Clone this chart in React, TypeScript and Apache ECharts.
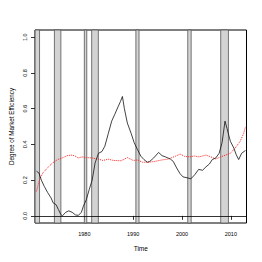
import React, { useEffect, useRef } from "react";
import * as echarts from "echarts";

const effYears = [1970.2,1970.7,1971.2,1971.8,1972.5,1973.2,1973.6,1974.2,1974.7,1975.2,1975.5,1976.2,1976.8,1977.5,1978.2,1978.8,1979.4,1979.8,1980.4,1981.0,1981.6,1982.2,1982.9,1983.6,1984.2,1984.9,1985.6,1986.2,1986.9,1987.4,1987.8,1988.2,1988.8,1989.6,1990.2,1990.9,1991.6,1992.2,1992.9,1993.4,1994.2,1995.2,1995.9,1996.6,1997.6,1998.2,1998.9,1999.6,2000.2,2001.2,2001.8,2002.6,2003.4,2004.2,2004.9,2005.6,2006.2,2006.9,2007.6,2008.2,2008.8,2009.2,2009.9,2010.6,2011.1,2011.6,2012.2,2013.0];
const effValues = [0.25,0.24,0.2,0.165,0.13,0.1,0.073,0.063,0.035,0.007,0.0,0.02,0.028,0.02,0.005,0.003,0.02,0.054,0.09,0.147,0.2,0.296,0.35,0.36,0.39,0.46,0.53,0.566,0.61,0.64,0.668,0.6,0.52,0.46,0.41,0.37,0.333,0.315,0.3,0.305,0.324,0.355,0.337,0.33,0.318,0.305,0.268,0.236,0.218,0.212,0.207,0.23,0.26,0.255,0.274,0.29,0.315,0.324,0.35,0.41,0.53,0.49,0.417,0.38,0.342,0.315,0.35,0.366];

const refYears = [1970.2,1970.8,1971.5,1972.5,1973.5,1974.5,1975.5,1976.5,1977.5,1978.2,1978.8,1979.5,1980.5,1981.5,1982.9,1983.8,1984.9,1986.0,1987.5,1988.8,1990.0,1990.9,1991.9,1993.2,1994.5,1995.9,1997.2,1998.6,1999.6,2000.5,2001.5,2002.5,2003.5,2004.9,2005.9,2006.9,2007.9,2008.9,2009.9,2010.9,2011.9,2012.6,2013.0];
const refValues = [0.137,0.2,0.24,0.27,0.296,0.315,0.324,0.337,0.34,0.333,0.324,0.33,0.326,0.324,0.317,0.31,0.317,0.31,0.308,0.326,0.31,0.313,0.3,0.3,0.305,0.313,0.318,0.333,0.346,0.333,0.33,0.335,0.33,0.34,0.33,0.318,0.33,0.34,0.35,0.38,0.417,0.46,0.5];

const recessionStart = [1969.92,1973.87,1980.0,1981.5,1990.55,2001.17,2007.92];
const recessionEnd = [1970.83,1975.2,1980.5,1982.87,1991.2,2001.87,2009.5];

const xTicks = [1980, 1990, 2000, 2010];
const yTicks = [0, 0.2, 0.4, 0.6, 0.8, 1.0];

export default function App() {
  const ref = useRef<HTMLDivElement>(null);
  useEffect(() => {
    if (!ref.current) return;
    const chart = echarts.init(ref.current, null, { renderer: "svg" });
    const font = "Liberation Sans, Arial, sans-serif";
    chart.setOption({
      animation: false,
      backgroundColor: "#fff",
      grid: {
        left: 30.5, top: 30, width: 216, height: 193,
        show: true, borderColor: "#000", borderWidth: 1, backgroundColor: "transparent",
      },
      xAxis: {
        type: "value", min: 1969.9, max: 2013.2,
        name: "Time", nameLocation: "middle", nameGap: 22,
        nameTextStyle: { fontSize: 6.5, color: "#000", fontFamily: font },
        splitLine: { show: false },
        axisLine: { show: false },
        axisTick: { show: true, length: 4, customValues: xTicks, lineStyle: { color: "#000", width: 0.8 } },
        axisLabel: {
          customValues: xTicks, fontSize: 5.5, color: "#000", margin: 8, fontFamily: font,
          formatter: (v: number) => String(Math.round(v)),
        },
      },
      yAxis: {
        type: "value", min: -0.04, max: 1.04,
        name: "Degree of Market Efficiency", nameLocation: "middle", nameGap: 21, nameRotate: 90,
        nameTextStyle: { fontSize: 6.3, color: "#000", fontFamily: font },
        splitLine: { show: false },
        axisLine: { show: false },
        axisTick: { show: true, length: 4, customValues: yTicks, lineStyle: { color: "#000", width: 0.8 } },
        axisLabel: {
          customValues: yTicks, fontSize: 5.5, color: "#000", margin: 7, rotate: 90, fontFamily: font,
          formatter: (v: number) => v.toFixed(1),
        },
      },
      series: [
        {
          type: "line", data: [], z: 1, silent: true,
          markArea: {
            silent: true,
            itemStyle: { color: "#d3d3d3", borderColor: "#555", borderWidth: 0.8 },
            data: recessionStart.map((s, i) => [{ xAxis: s }, { xAxis: recessionEnd[i] }]),
          },
          markLine: {
            silent: true, symbol: "none", label: { show: false },
            lineStyle: { color: "#000", type: "solid", width: 0.8 },
            data: [{ yAxis: 0 }],
          },
        },
        {
          type: "line", z: 3, showSymbol: false,
          data: refYears.map((y, i) => [y, refValues[i]]),
          lineStyle: { color: "#ff2020", width: 1, type: "dotted" },
        },
        {
          type: "line", z: 4, showSymbol: false,
          data: effYears.map((y, i) => [y, effValues[i]]),
          lineStyle: { color: "#111", width: 0.8 },
        },
      ],
    });
    return () => chart.dispose();
  }, []);
  return (
    <div
      ref={ref}
      style={{ position: "fixed", left: 0, top: 0, width: 262, height: 262, background: "#fff" }}
    />
  );
}
